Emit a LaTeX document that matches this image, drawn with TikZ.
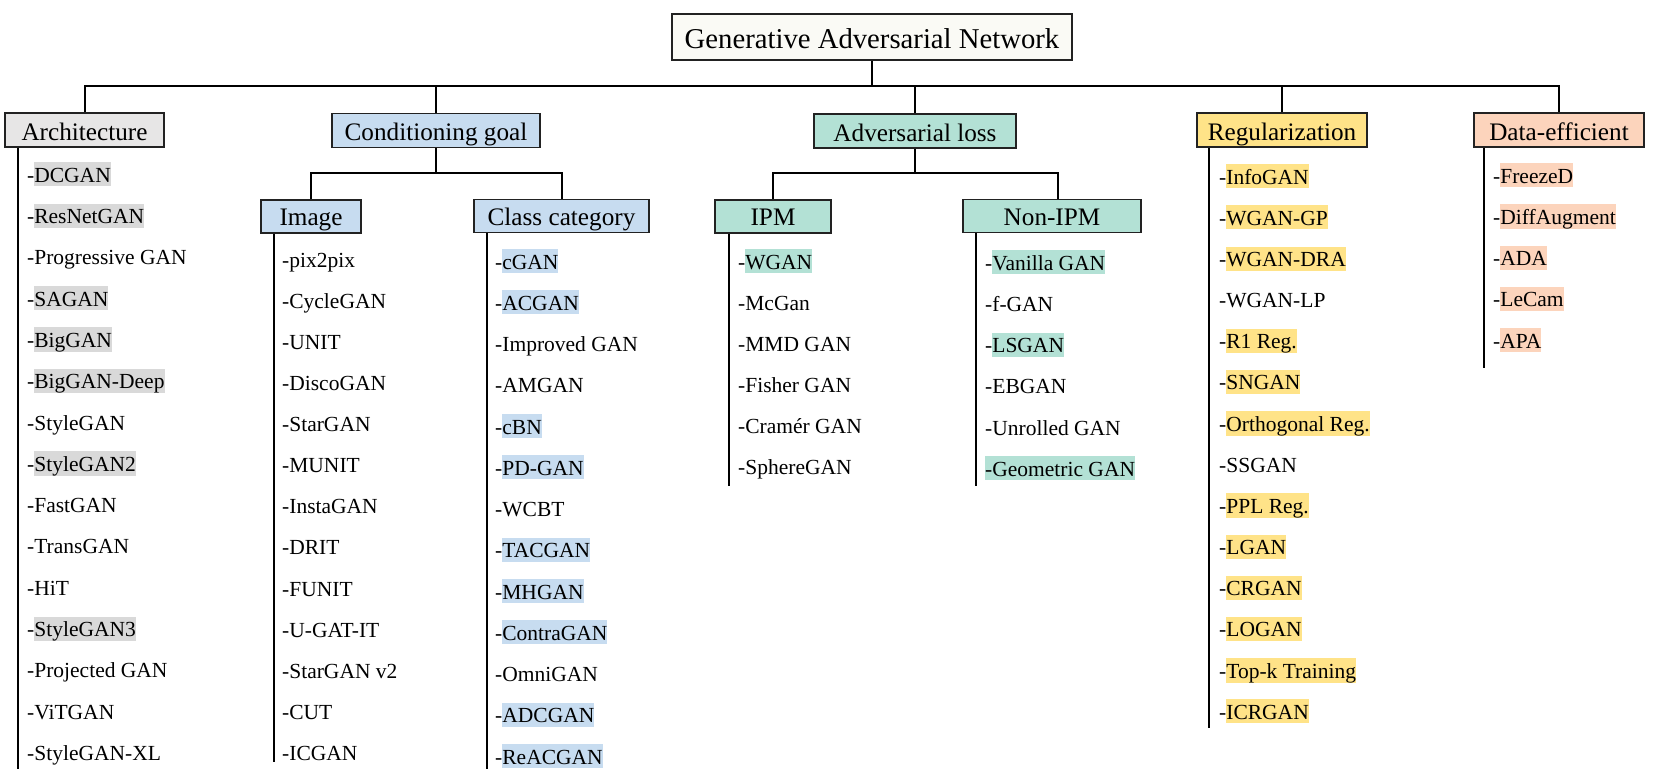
\documentclass[tikz,border=0pt]{standalone}
\usepackage{fontspec}
\setmainfont{Liberation Serif}
\usetikzlibrary{positioning}

\definecolor{titlefill}{HTML}{FAFAF5}
\definecolor{archfill}{HTML}{E7E6E6}
\definecolor{archhl}{HTML}{D9D9D9}
\definecolor{condfill}{HTML}{C7DCF0}
\definecolor{lossfill}{HTML}{B3E1D5}
\definecolor{regfill}{HTML}{FFE388}
\definecolor{datafill}{HTML}{FCD4BC}
\definecolor{edge}{HTML}{222222}

\setlength{\fboxsep}{0pt}
% item markers: h = name highlighted, n = plain, H = dash and name highlighted
\newcommand{\hlbox}[1]{\colorbox{\hlc}{\rule[-4pt]{0pt}{24pt}#1}}
\newcommand{\itemh}[1]{-\hlbox{#1}}
\newcommand{\itemn}[1]{-#1}
\newcommand{\itemH}[1]{\hlbox{-#1}}

\begin{document}
\begin{tikzpicture}[x=1pt,y=-1pt,
  catbox/.style={draw=edge,line width=1.8pt,inner sep=0pt,minimum height=34pt,
    text height=20pt,text depth=0pt,font=\fontsize{25.2}{28}\selectfont},
  subbox/.style={catbox,minimum height=33pt,text height=18pt},
  item/.style={anchor=base west,inner sep=0pt,font=\fontsize{21.5}{24}\selectfont},
  link/.style={line width=2pt,draw=black},
  rail/.style={line width=2pt,draw=black}]
\useasboundingbox (0,0) rectangle (1654,780);

% root and first level
\node[catbox,fill=titlefill,minimum width=400pt,minimum height=46pt,text height=22pt,
  font=\fontsize{28.7}{32}\selectfont] (gan) at (872,37) {Generative Adversarial Network};
\node[catbox,fill=archfill,minimum width=159pt] (arch) at (84.5,130) {Architecture};
\node[catbox,fill=condfill,minimum width=208pt] (cond) at (436,130.5) {Conditioning goal};
\node[catbox,fill=lossfill,minimum width=202pt] (loss) at (915,131) {Adversarial loss};
\node[catbox,fill=regfill,minimum width=170pt] (reg) at (1282,130) {Regularization};
\node[catbox,fill=datafill,minimum width=170pt] (data) at (1559,130) {Data-efficient};

% second level
\node[subbox,fill=condfill,minimum width=100pt] (image) at (311,216.5) {Image};
\node[subbox,fill=condfill,minimum width=175pt] (class) at (561.5,216) {Class category};
\node[subbox,fill=lossfill,minimum width=116pt] (ipm) at (773,216.5) {IPM};
\node[subbox,fill=lossfill,minimum width=178pt] (nonipm) at (1052,216) {Non-IPM};

% tree connectors
\coordinate (bus) at (872,86);
\coordinate (condbus) at (436,173);
\coordinate (lossbus) at (915,173);
\draw[link] (gan.south) -- (bus);
\draw[link] (arch.north) |- (bus) -| (data.north);
\draw[link] (cond.north) -- (cond.north |- bus);
\draw[link] (loss.north) -- (loss.north |- bus);
\draw[link] (reg.north) -- (reg.north |- bus);
\draw[link] (cond.south) -- (condbus);
\draw[link] (image.north) |- (condbus) -| (class.north);
\draw[link] (loss.south) -- (lossbus);
\draw[link] (ipm.north) |- (lossbus) -| ([xshift=6pt]nonipm.north);

% list rails
\coordinate (archend) at (18,769);
\coordinate (imageend) at (274,762);
\coordinate (classend) at (487,769);
\coordinate (ipmend) at (729,486);
\coordinate (nonipmend) at (976,486);
\coordinate (regend) at (1209,728);
\coordinate (dataend) at (1484,368);
\draw[rail] (arch.south -| archend) -- (archend);
\draw[rail] (image.south -| imageend) -- (imageend);
\draw[rail] (class.south -| classend) -- (classend);
\draw[rail] (ipm.south -| ipmend) -- (ipmend);
\draw[rail] (nonipm.south -| nonipmend) -- (nonipmend);
\draw[rail] (reg.south -| regend) -- (regend);
\draw[rail] (data.south -| dataend) -- (dataend);

% Architecture
\def\hlc{archhl}
\foreach \f/\t [count=\i from 0] in {h/DCGAN,h/ResNetGAN,n/Progressive GAN,h/SAGAN,h/BigGAN,h/BigGAN-Deep,n/StyleGAN,h/StyleGAN2,n/FastGAN,n/TransGAN,n/HiT,h/StyleGAN3,n/Projected GAN,n/ViTGAN,n/StyleGAN-XL}
  \node[item] (arch-\i) at (27,{182.2+41.3*\i}) {\csname item\f\endcsname{\t}};

% Image
\def\hlc{condfill}
\foreach \f/\t [count=\i from 0] in {n/pix2pix,n/CycleGAN,n/UNIT,n/DiscoGAN,n/StarGAN,n/MUNIT,n/InstaGAN,n/DRIT,n/FUNIT,n/U-GAT-IT,n/StarGAN v2,n/CUT,n/ICGAN}
  \node[item] (image-\i) at (282,{267.2+41.1*\i}) {\csname item\f\endcsname{\t}};

% Class category
\foreach \f/\t [count=\i from 0] in {h/cGAN,h/ACGAN,n/Improved GAN,n/AMGAN,h/cBN,h/PD-GAN,n/WCBT,h/TACGAN,h/MHGAN,h/ContraGAN,n/OmniGAN,h/ADCGAN,h/ReACGAN}
  \node[item] (class-\i) at (495,{269.2+41.25*\i}) {\csname item\f\endcsname{\t}};

% IPM
\def\hlc{lossfill}
\foreach \f/\t [count=\i from 0] in {h/WGAN,n/McGan,n/MMD GAN,n/Fisher GAN,n/Cramér GAN,n/SphereGAN}
  \node[item] (ipm-\i) at (738,{269.2+41*\i}) {\csname item\f\endcsname{\t}};

% Non-IPM
\foreach \f/\t [count=\i from 0] in {h/Vanilla GAN,n/f-GAN,h/LSGAN,n/EBGAN,n/Unrolled GAN,H/Geometric GAN}
  \node[item] (nonipm-\i) at (985,{270.2+41.2*\i}) {\csname item\f\endcsname{\t}};

% Regularization
\def\hlc{regfill}
\foreach \f/\t [count=\i from 0] in {h/InfoGAN,h/WGAN-GP,h/WGAN-DRA,n/WGAN-LP,h/R1 Reg.,h/SNGAN,h/Orthogonal Reg.,n/SSGAN,h/PPL Reg.,h/LGAN,h/CRGAN,h/LOGAN,h/Top-k Training,h/ICRGAN}
  \node[item] (reg-\i) at (1219,{184.2+41.15*\i}) {\csname item\f\endcsname{\t}};

% Data-efficient
\def\hlc{datafill}
\foreach \f/\t [count=\i from 0] in {h/FreezeD,h/DiffAugment,h/ADA,h/LeCam,h/APA}
  \node[item] (data-\i) at (1493,{183.2+41.25*\i}) {\csname item\f\endcsname{\t}};
\end{tikzpicture}
\end{document}
